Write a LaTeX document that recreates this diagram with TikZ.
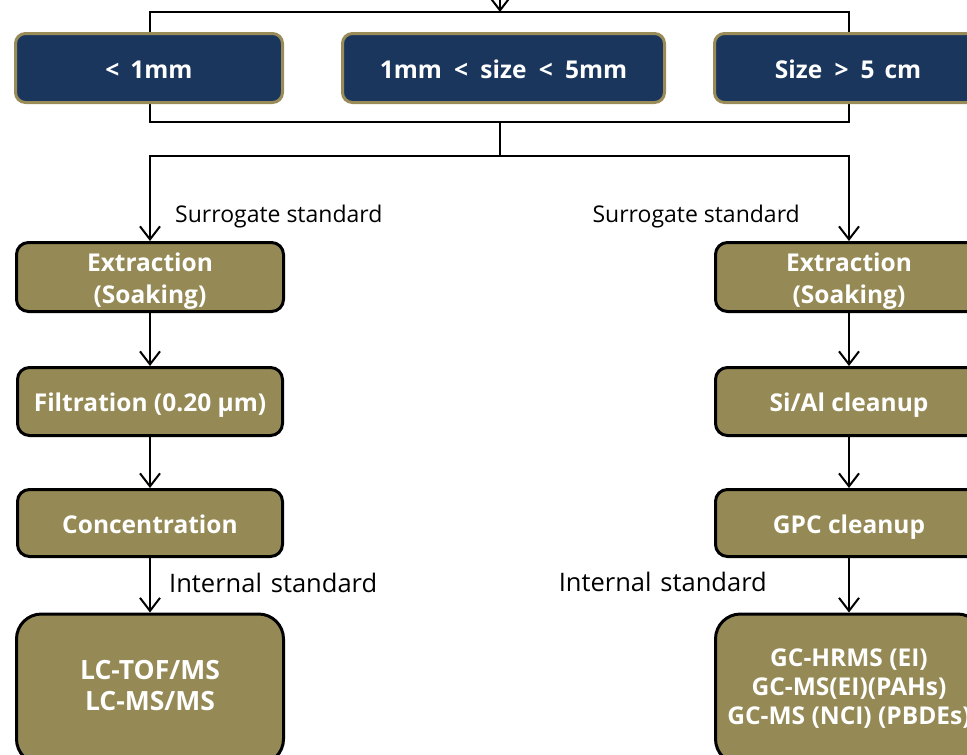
\documentclass[tikz,border=0pt]{standalone}
\usepackage{fontspec}
\setmainfont{Open Sans}
\usetikzlibrary{arrows.meta,backgrounds}
\definecolor{navy}{HTML}{1A365D}
\definecolor{goldrim}{HTML}{9A8C58}
\definecolor{olive}{HTML}{958A55}
% invisible struts that set the top of the first line / the bottom of the last line
\newcommand\upstrut[1]{\rule{0pt}{#1}}
\newcommand\downstrut[1]{\rule[-#1]{0pt}{#1}}

\begin{document}
\begin{tikzpicture}[x=1pt,y=-1pt,
  sizebox/.style={draw=goldrim, line width=3pt, fill=navy, rounded corners=10pt,
    minimum height=69pt, text=white, inner sep=0pt,
    text height=25.5pt, text depth=5pt,
    font=\bfseries\fontsize{24.5}{28}\selectfont},
  stepbox/.style={draw=black, line width=3pt, fill=olive, rounded corners=12pt,
    minimum width=267pt, minimum height=69pt, text=white, inner sep=0pt, align=center,
    font=\bfseries\fontsize{24.5}{32}\selectfont},
  oneline/.style={text height=25.5pt, text depth=5pt},
  conn/.style={line width=2pt},
  arr/.style={conn, -{Straight Barb[length=13pt,width=20pt,line width=2pt]}},
  note/.style={font=\fontsize{23}{26}\selectfont, inner sep=0pt},
  bignote/.style={font=\fontsize{25.5}{28}\selectfont, inner sep=0pt}
]
\useasboundingbox (0,0) rectangle (967,755);

% size classes
\node[sizebox, minimum width=267pt] (small) at (149,68) {<\hspace{0.45em}1mm};
\node[sizebox, minimum width=322pt] (mid) at (503.5,68) {1mm\hspace{0.5em}<\hspace{0.5em}size\hspace{0.5em}<\hspace{0.5em}5mm};
\node[sizebox, minimum width=267pt] (large) at (848,68) {Size\hspace{0.5em}>\hspace{0.5em}5\hspace{0.4em}cm};

% left branch
\node[stepbox] (extL) at (150,277) {\upstrut{27.5pt}Extraction\\(Soaking)\downstrut{7pt}};
\node[stepbox, oneline, minimum width=265pt, minimum height=68pt] (filtL) at (150,401.5) {Filtration (0.20 µm)};
\node[stepbox, oneline, minimum width=265pt, minimum height=67pt] (concL) at (150,523) {Concentration};
\node[stepbox, rounded corners=25pt, minimum height=150pt,
  font=\bfseries\fontsize{26.5}{31}\selectfont]
  (lcL) at (150,689) {\upstrut{23.9pt}LC-TOF/MS\\LC-MS/MS\downstrut{12pt}};

% right branch
\node[stepbox] (extR) at (849,277) {\upstrut{27.5pt}Extraction\\(Soaking)\downstrut{7pt}};
\node[stepbox, oneline, minimum height=68pt] (siR) at (849,401.5) {Si/Al cleanup};
\node[stepbox, oneline, minimum height=67pt] (gpcR) at (849,523) {GPC cleanup};
\node[stepbox, rounded corners=25pt, minimum height=150pt,
  font=\bfseries\fontsize{24.5}{29}\selectfont]
  (gcR) at (849,689) {\upstrut{22.5pt}GC-HRMS (EI)\\GC-MS(EI)(PAHs)\\GC-MS (NCI) (PBDEs)\downstrut{9pt}};

% connector points
\coordinate (in) at (500,-10);
\coordinate (ftl) at (150,12);
\coordinate (fbr) at (849,122);
\coordinate (split) at (500,156);

\begin{scope}[on background layer]
  \draw[conn] (ftl) rectangle (fbr);
  \draw[conn] (split |- fbr) -- (split);
\end{scope}
\draw[arr] (in) -- (in |- ftl);
\draw[arr] (split) -| (extL.north);
\draw[arr] (split) -| (extR.north);

\draw[arr] (extL) -- (filtL);
\draw[arr] (filtL) -- (concL);
\draw[arr] (concL) -- (lcL);
\draw[arr] (extR) -- (siR);
\draw[arr] (siR) -- (gpcR);
\draw[arr] (gpcR) -- (gcR);

% additions
\node[note, anchor=west] (surL) at (175,217) {Surrogate standard};
\node[note, anchor=east] (surR) at (800,217) {Surrogate standard};
\node[bignote, anchor=west] (intL) at (169,583) {Internal\hspace{0.35em}standard};
\node[bignote, anchor=east] (intR) at (767,582) {Internal\hspace{0.35em}standard};
\end{tikzpicture}
\end{document}
